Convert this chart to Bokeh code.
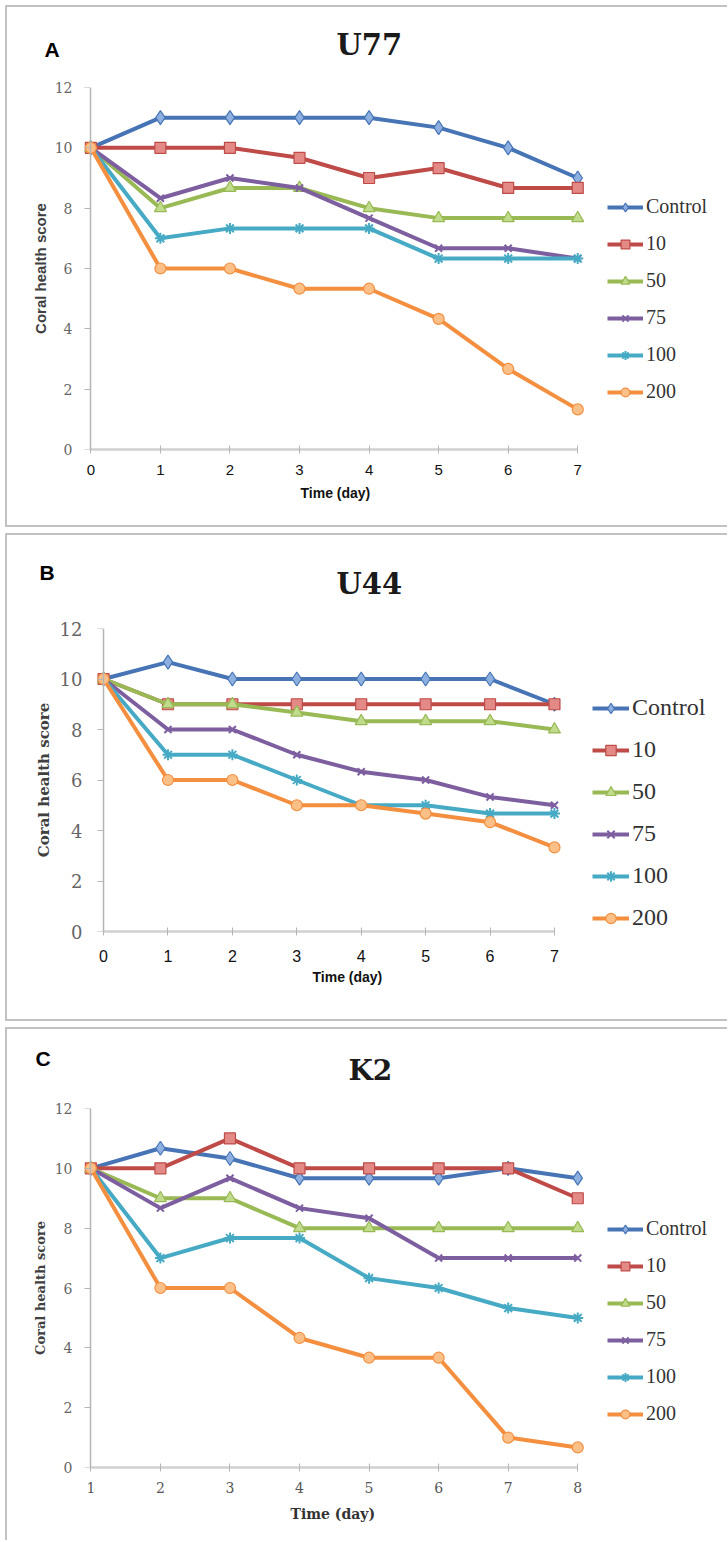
from bokeh.plotting import figure
from bokeh.models import Range1d, FixedTicker, Legend, LegendItem, Title, LinearAxis
from bokeh.layouts import column
from bokeh.embed import file_html
from bokeh.resources import INLINE

# ---------------- data ----------------
series_names = ["Control", "10", "50", "75", "100", "200"]
line_colors = ["#4674B5", "#BE4B48", "#98B954", "#7D5FA0", "#46AAC5", "#F38F3F"]
fill_colors = ["#8DB0E0", "#E38A87", "#C0DB8B", "#A993C8", "#8FD3E6", "#FBBF88"]
marker_types = ["diamond", "square", "triangle", "x", "asterisk", "circle"]
marker_sizes = [14, 11, 12, 10, 11, 11]
y_ticks = [0, 2, 4, 6, 8, 10, 12]

days_u77 = [0, 1, 2, 3, 4, 5, 6, 7]
u77_control = [10, 11, 11, 11, 11, 10.67, 10, 9]
u77_10 = [10, 10, 10, 9.67, 9, 9.33, 8.67, 8.67]
u77_50 = [10, 8, 8.67, 8.67, 8, 7.67, 7.67, 7.67]
u77_75 = [10, 8.33, 9, 8.67, 7.67, 6.67, 6.67, 6.33]
u77_100 = [10, 7, 7.33, 7.33, 7.33, 6.33, 6.33, 6.33]
u77_200 = [10, 6, 6, 5.33, 5.33, 4.33, 2.67, 1.33]

days_u44 = [0, 1, 2, 3, 4, 5, 6, 7]
u44_control = [10, 10.67, 10, 10, 10, 10, 10, 9]
u44_10 = [10, 9, 9, 9, 9, 9, 9, 9]
u44_50 = [10, 9, 9, 8.67, 8.33, 8.33, 8.33, 8]
u44_75 = [10, 8, 8, 7, 6.33, 6, 5.33, 5]
u44_100 = [10, 7, 7, 6, 5, 5, 4.67, 4.67]
u44_200 = [10, 6, 6, 5, 5, 4.67, 4.33, 3.33]

days_k2 = [1, 2, 3, 4, 5, 6, 7, 8]
k2_control = [10, 10.67, 10.33, 9.67, 9.67, 9.67, 10, 9.67]
k2_10 = [10, 10, 11, 10, 10, 10, 10, 9]
k2_50 = [10, 9, 9, 8, 8, 8, 8, 8]
k2_75 = [10, 8.67, 9.67, 8.67, 8.33, 7, 7, 7]
k2_100 = [10, 7, 7.67, 7.67, 6.33, 6, 5.33, 5]
k2_200 = [10, 6, 6, 4.33, 3.67, 3.67, 1, 0.67]

SANS = "Liberation Sans"
SERIF = "DejaVu Serif"
LSERIF = "Liberation Serif"
BORDER = "2px solid #c2c2c2"
FRAME_W = 640
ML, MR = 75, 5


def style_title(t, text, font, size, color, offset, standoff):
    t.text = text
    t.align = "left"
    t.offset = offset
    t.vertical_align = "bottom"
    t.standoff = standoff
    t.text_font = font
    t.text_font_size = size
    t.text_font_style = "bold"
    t.text_color = color


def make_panel(days, series, title, letter, s):
    p = figure(frame_width=FRAME_W, frame_height=s["fh"],
               x_range=Range1d(s["xr"][0], s["xr"][1]),
               y_range=Range1d(0, 12),
               output_backend="svg", toolbar_location=None,
               min_border_left=ML, min_border_right=MR,
               min_border_top=s["mt"], min_border_bottom=s["mb"])
    p.styles = s["styles"]
    p.background_fill_color = "white"
    p.border_fill_color = "white"
    p.outline_line_color = None
    p.xgrid.visible = False
    p.ygrid.visible = False

    items = []
    for i, ys in enumerate(series):
        lr = p.line(days, ys, line_color=line_colors[i], line_width=s["lw"])
        mr = p.scatter(days, ys, marker=marker_types[i], size=marker_sizes[i],
                       fill_color=fill_colors[i], line_color=line_colors[i],
                       line_width=2 if marker_types[i] in ("x", "asterisk") else 1.2)
        items.append(LegendItem(label=series_names[i], renderers=[lr, mr]))

    leg = Legend(items=items, location=s["leg_loc"], orientation="vertical",
                 border_line_color=None, background_fill_alpha=0,
                 padding=0, margin=0, spacing=s["leg_sp"],
                 glyph_width=s["leg_gw"], glyph_height=s["leg_h"],
                 label_height=s["leg_h"], label_standoff=3,
                 label_text_font=LSERIF, label_text_font_size=s["leg_fs"],
                 label_text_color="#333333")
    p.add_layout(leg)

    # x axis (below); its title is a Title placed under it
    xa = p.xaxis[0]
    xa.ticker = FixedTicker(ticks=days)
    xa.bounds = (days[0], days[-1])
    xa.axis_line_color = "#d0d0d0"
    xa.axis_line_width = 2.5
    xa.major_tick_in = 4
    xa.major_tick_out = 4
    xa.major_tick_line_color = "#b5b5b5"
    xa.minor_tick_line_color = None
    xa.major_label_text_font = s["xt_font"]
    xa.major_label_text_font_size = s["xt_fs"]
    xa.major_label_text_color = s["xt_col"]
    xa.major_label_standoff = s["xt_so"]
    p.add_layout(Title(text="Time (day)", align="left", offset=s["xl_off"], vertical_align="top",
                       standoff=s["xl_so"], text_font=s["xl_font"], text_font_size=s["xl_fs"],
                       text_font_style="bold", text_color=s["xl_col"]), "below")

    # y axis carrying the tick labels and the title
    ya = p.yaxis[0]
    ya.ticker = FixedTicker(ticks=y_ticks)
    ya.axis_line_color = None
    ya.major_tick_line_color = None
    ya.minor_tick_line_color = None
    ya.major_tick_in = 0
    ya.major_tick_out = 0
    ya.major_label_text_font = SERIF
    ya.major_label_text_font_size = s["yt_fs"]
    ya.major_label_text_color = "#666666"
    ya.major_label_standoff = s["yt_so"]
    ya.axis_label = "Coral health score"
    ya.axis_label_text_font = s["yl_font"]
    ya.axis_label_text_font_size = s["yl_fs"]
    ya.axis_label_text_font_style = "bold"
    ya.axis_label_text_color = "#404040"
    ya.axis_label_standoff = s["yl_so"]

    # y axis line and ticks at the first day
    yl = LinearAxis(fixed_location=days[0], ticker=FixedTicker(ticks=y_ticks), bounds=(0, 12),
                    axis_line_color="#b5b5b5", axis_line_width=1.5,
                    major_tick_in=0, major_tick_out=6, major_tick_line_color="#b5b5b5",
                    minor_tick_line_color=None, major_label_standoff=0,
                    major_label_overrides={t: "" for t in y_ticks})
    p.add_layout(yl, "left")

    # chart title and panel letter: one next to the frame, the other as the outer title
    t_title = (title, SERIF, s["title_fs"], "#1a1a1a", s["title_off"], s["title_so"])
    t_letter = (letter, SANS, "21px", "black", s["letter_off"], s["letter_so"])
    inner, outer = (t_letter, t_title) if s["letter_inner"] else (t_title, t_letter)
    t_in = Title()
    style_title(t_in, *inner)
    p.add_layout(t_in, "above")
    style_title(p.title, *outer)
    return p


spec_a = dict(fh=358, mt=80, mb=80, lw=4, xr=(-0.12, 9.11),
              styles={"border-top": BORDER, "border-left": BORDER, "border-bottom": BORDER},
              leg_loc=(525, 46), leg_sp=14, leg_gw=36, leg_h=22, leg_fs="20px",
              xt_font=SANS, xt_fs="15px", xt_col="#111111", xt_so=11,
              yt_fs="14px", yt_so=10,
              yl_font=SANS, yl_fs="15px", yl_so=3,
              xl_off=218, xl_font=SANS, xl_fs="14px", xl_col="#111111", xl_so=14,
              letter_inner=True,
              title_off=254, title_so=-107, title_fs="29px",
              letter_off=-38, letter_so=54)

spec_b = dict(fh=299, mt=93, mb=92, lw=4, xr=(-0.327, 9.64),
              styles={"border-top": BORDER, "border-left": BORDER, "border-bottom": BORDER},
              leg_loc=(510, 0), leg_sp=15, leg_gw=37, leg_h=26, leg_fs="24px",
              xt_font=SANS, xt_fs="16px", xt_col="#111111", xt_so=14,
              yt_fs="18px", yt_so=0,
              yl_font=SERIF, yl_fs="15px", yl_so=4,
              xl_off=230, xl_font=SANS, xl_fs="14px", xl_col="#111111", xl_so=9,
              letter_inner=False,
              title_off=254, title_so=55, title_fs="29px",
              letter_off=-43, letter_so=-92)

spec_c = dict(fh=357, mt=79, mb=75, lw=4, xr=(0.88, 10.11),
              styles={"border-top": BORDER, "border-left": BORDER},
              leg_loc=(525, 42), leg_sp=14, leg_gw=36, leg_h=22, leg_fs="20px",
              xt_font=SERIF, xt_fs="14px", xt_col="#555555", xt_so=10,
              yt_fs="14px", yt_so=10,
              yl_font=SERIF, yl_fs="13px", yl_so=4,
              xl_off=208, xl_font=SERIF, xl_fs="14px", xl_col="#333333", xl_so=21,
              letter_inner=False,
              title_off=266, title_so=44, title_fs="28px",
              letter_off=-47, letter_so=-80)

pA = make_panel(days_u77, [u77_control, u77_10, u77_50, u77_75, u77_100, u77_200], "U77", "A", spec_a)
pB = make_panel(days_u44, [u44_control, u44_10, u44_50, u44_75, u44_100, u44_200], "U44", "B", spec_b)
pC = make_panel(days_k2, [k2_control, k2_10, k2_50, k2_75, k2_100, k2_200], "K2", "C", spec_c)

layout = column(pA, pB, pC, spacing=6, margin=(5, 0, 0, 5))
open("out.html", "w").write(file_html(layout, INLINE))
